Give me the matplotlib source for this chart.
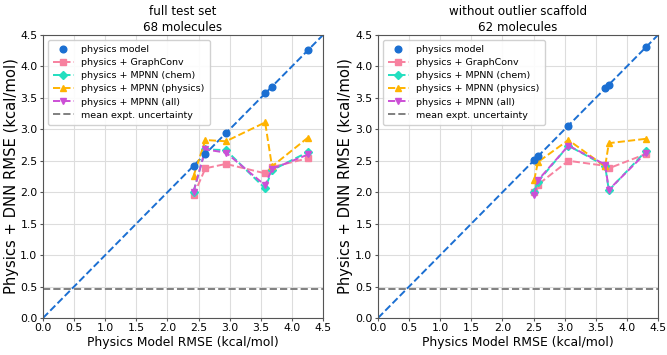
import matplotlib.pyplot as plt
import numpy as np

# full test set, 68 molecules
phys_full = [2.42, 2.61, 2.94, 3.57, 3.68, 4.26]
gconv_full = [1.95, 2.38, 2.45, 2.30, 2.40, 2.54]
chem_full = [2.01, 2.68, 2.67, 2.06, 2.35, 2.64]
mphys_full = [2.26, 2.83, 2.81, 3.11, 2.41, 2.87]
all_full = [2.01, 2.68, 2.63, 2.11, 2.37, 2.60]

# without outlier scaffold, 62 molecules
phys_sub = [2.51, 2.57, 3.06, 3.65, 3.71, 4.31]
gconv_sub = [2.00, 2.12, 2.50, 2.42, 2.38, 2.61]
chem_sub = [2.01, 2.17, 2.74, 2.42, 2.03, 2.66]
mphys_sub = [2.19, 2.48, 2.83, 2.41, 2.78, 2.85]
all_sub = [1.96, 2.19, 2.74, 2.44, 2.04, 2.63]

expt_unc = 0.46

titles = ["full test set\n68 molecules", "without outlier scaffold\n62 molecules"]

c_phys = '#1b6fd2'
c_gconv = '#f7819f'
c_chem = '#22dfc0'
c_mphys = '#ffb300'
c_all = '#cc4fd6'

fig = plt.figure(figsize=(6.67, 3.55), dpi=100)
ax1 = fig.add_axes([43/667, 1-318/355, 280/667, 283/355])
ax2 = fig.add_axes([378/667, 1-318/355, 280/667, 283/355])

sets = [
    (ax1, phys_full, gconv_full, chem_full, mphys_full, all_full, titles[0], -0.084),
    (ax2, phys_sub, gconv_sub, chem_sub, mphys_sub, all_sub, titles[1], -0.090),
]

for ax, px, gc, ch, mp, al, title, ylx in sets:
    ax.plot([0, 4.5], [0, 4.5], '--', color=c_phys, lw=1.4, zorder=2)
    ax.plot(px, px, 'o', color=c_phys, ms=4.8, label='physics model', zorder=5)
    ax.plot(px, gc, 's--', color=c_gconv, ms=4.8, lw=1.4, label='physics + GraphConv', zorder=3)
    ax.plot(px, ch, 'D--', color=c_chem, ms=4.2, lw=1.4, label='physics + MPNN (chem)', zorder=3)
    ax.plot(px, mp, '^--', color=c_mphys, ms=4.8, lw=1.4, label='physics + MPNN (physics)', zorder=3)
    ax.plot(px, al, 'v--', color=c_all, ms=4.8, lw=1.4, label='physics + MPNN (all)', zorder=4)
    ax.axhline(expt_unc, ls='--', color='#808080', lw=1.4, label='mean expt. uncertainty')
    ax.set_xlim(0, 4.5)
    ax.set_ylim(0, 4.5)
    ax.set_xticks(np.arange(0, 4.51, 0.5))
    ax.set_yticks(np.arange(0, 4.51, 0.5))
    ax.tick_params(labelsize=7.8, length=2.5, color='#555555')
    ax.tick_params(axis='x', pad=1)
    ax.tick_params(axis='y', pad=1.5)
    ax.grid(color='#dddddd', lw=0.8)
    ax.set_axisbelow(True)
    for s in ax.spines.values():
        s.set_color('#555555')
    ax.set_title(title, fontsize=8.6, linespacing=1.3, pad=3)
    ax.set_xlabel('Physics Model RMSE (kcal/mol)', fontsize=8.9, labelpad=2)
    ax.set_ylabel('Physics + DNN RMSE (kcal/mol)', fontsize=10.6)
    ax.yaxis.set_label_coords(ylx, 0.5)
    ax.legend(loc='upper left', fontsize=6.8, handlelength=2.2, borderpad=0.55,
              labelspacing=0.44, framealpha=0.9, edgecolor='#cccccc')

plt.savefig('out.png', dpi=100)
